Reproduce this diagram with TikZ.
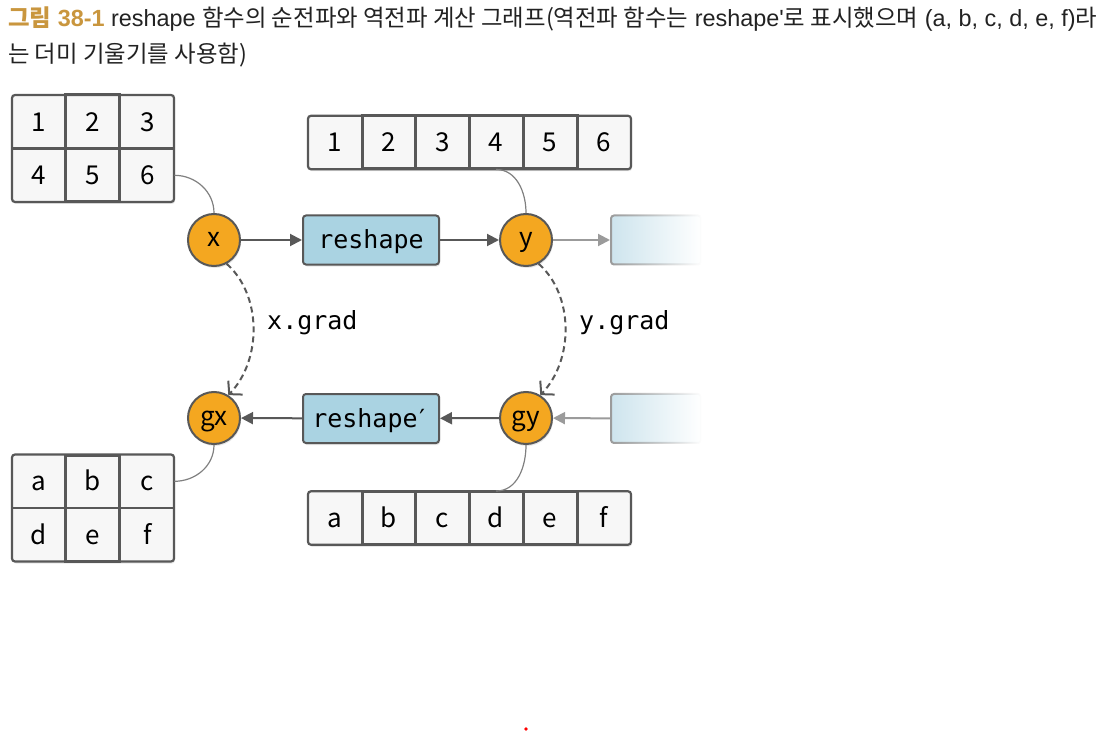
\documentclass[tikz,border=0pt]{standalone}
\usepackage{fontspec}
\setmainfont{Liberation Sans}
\newfontfamily\cjk{Noto Sans CJK KR}
\newfontfamily\monofont{DejaVu Sans Mono}
\usetikzlibrary{arrows.meta,shadows,fadings}
\definecolor{titlegold}{RGB}{201,150,62}
\definecolor{txt}{RGB}{34,34,34}
\definecolor{edge}{RGB}{88,88,88}
\definecolor{cellfill}{RGB}{247,247,247}
\definecolor{varorange}{RGB}{244,167,32}
\definecolor{fnblue}{RGB}{170,211,226}
\definecolor{fadeblue}{RGB}{205,228,237}
\definecolor{lightarr}{RGB}{155,155,155}
\newcommand\K[1]{{\cjk #1}}
\tikzfading[name=fadeR, left color=transparent!0, right color=transparent!100]
\tikzset{
  gridbox/.style={draw=edge, line width=2.2pt, fill=cellfill, rounded corners=3pt,
    inner sep=0pt, drop shadow={opacity=0.18, shadow xshift=1pt, shadow yshift=-2pt}},
  thickcell/.style={draw=edge, line width=3pt},
  cell/.style={inner sep=0pt, minimum width=53.8pt, minimum height=53.5pt,
    text height=19pt, text depth=0pt,
    font=\cjk\fontsize{26}{26}\selectfont, text=black},
  var/.style={circle, draw=edge, line width=2pt, fill=varorange, minimum size=52pt, inner sep=0pt,
    text height=14pt, text depth=0pt,
    font=\cjk\fontsize{26}{26}\selectfont, text=black,
    drop shadow={opacity=0.18, shadow xshift=1pt, shadow yshift=-2pt}},
  fn/.style={draw=edge, line width=2pt, fill=fnblue, rounded corners=3pt, minimum width=136pt,
    minimum height=49pt, inner sep=0pt, text height=17pt, text depth=0pt,
    font=\monofont\fontsize{25}{25}\selectfont, text=black,
    drop shadow={opacity=0.18, shadow xshift=1pt, shadow yshift=-2pt}},
  fadebox/.style={draw=lightarr, line width=2pt, fill=fadeblue, rounded corners=3pt, minimum width=90pt,
    minimum height=49pt, inner sep=0pt, path fading=fadeR},
  arr/.style={draw=edge, line width=2pt, -{Triangle[length=12pt,width=12pt]}},
  lightarrow/.style={draw=lightarr, line width=2pt, -{Triangle[length=12pt,width=12pt]}},
  gradarrow/.style={draw=edge, line width=2pt, dash pattern=on 6pt off 4pt,
    -{Straight Barb[length=9pt,width=20pt]}},
  link/.style={draw=gray, line width=1.2pt},
  lbl/.style={font=\monofont\fontsize{25}{25}\selectfont, text=black, inner sep=0pt}
}
\begin{document}
\begin{tikzpicture}[x=1pt,y=-1pt]
\useasboundingbox (0,0) rectangle (1112,733);
% title
\node[anchor=base west, inner sep=0pt, text=txt, font=\fontsize{23.4}{27}\selectfont] (t1) at (8,27)
 {{\color{titlegold}\K{\bfseries 그림} \textbf{38-1}} reshape \K{함수의 순전파와 역전파 계산 그래프(역전파 함수는} reshape\textquotesingle\K{로 표시했으며} (a, b, c, d, e, f)\K{라}};
\node[anchor=base west, inner sep=0pt, text=txt, font=\fontsize{23.4}{27}\selectfont] (t2) at (8,63)
 {\K{는 더미 기울기를 사용함)}};

% top-left grid 1..6
\node[gridbox, minimum width=162pt, minimum height=107pt] (gA) at (93,148.5) {};
\draw[thickcell] (65.5,95) rectangle (119.5,202);
\draw[edge, line width=2.2pt] (12,148.5) -- (174,148.5);
\node[cell] (a1) at (38.7,121.7) {1};
\node[cell] (a2) at (92.5,121.7) {2};
\node[cell] (a3) at (147.3,121.7) {3};
\node[cell] (a4) at (38.7,175.3) {4};
\node[cell] (a5) at (92.5,175.3) {5};
\node[cell] (a6) at (147.3,175.3) {6};

% top row 1..6
\node[gridbox, minimum width=323pt, minimum height=53.5pt] (gB) at (469.5,142.5) {};
\draw[thickcell] (362,116) rectangle (577,169);
\draw[thickcell] (415.5,116) -- (415.5,169);
\draw[thickcell] (469.5,116) -- (469.5,169);
\draw[thickcell] (523,116) -- (523,169);
\node[cell] (b1) at (335,142.5) {1};
\node[cell] (b2) at (389,142.5) {2};
\node[cell] (b3) at (442.5,142.5) {3};
\node[cell] (b4) at (496,142.5) {4};
\node[cell] (b5) at (550,142.5) {5};
\node[cell] (b6) at (604,142.5) {6};

% bottom-left grid a..f
\node[gridbox, minimum width=162pt, minimum height=107pt] (gC) at (93,508) {};
\draw[thickcell] (65.5,455) rectangle (119.5,561);
\draw[edge, line width=2.2pt] (12,508) -- (174,508);
\node[cell] (c1) at (38.7,481.3) {a};
\node[cell] (c2) at (92.5,481.3) {b};
\node[cell] (c3) at (147.3,481.3) {c};
\node[cell] (c4) at (38.7,534.7) {d};
\node[cell] (c5) at (92.5,534.7) {e};
\node[cell] (c6) at (147.3,534.7) {f};

% bottom row a..f
\node[gridbox, minimum width=323pt, minimum height=53.5pt] (gD) at (469.5,518) {};
\draw[thickcell] (362,491.5) rectangle (577,544.5);
\draw[thickcell] (415.5,491.5) -- (415.5,544.5);
\draw[thickcell] (469.5,491.5) -- (469.5,544.5);
\draw[thickcell] (523,491.5) -- (523,544.5);
\node[cell] (d1) at (335,518) {a};
\node[cell] (d2) at (389,518) {b};
\node[cell] (d3) at (442.5,518) {c};
\node[cell] (d4) at (496,518) {d};
\node[cell] (d5) at (550,518) {e};
\node[cell] (d6) at (604,518) {f};

% variables and functions
\node[var] (x) at (214,240) {x};
\node[var] (y) at (526,240) {y};
\node[var] (gx) at (214,418) {gx};
\node[var] (gy) at (526,418) {gy};
\node[fn] (f) at (371,240) {reshape};
\node[fn] (fb) at (371,418.5) {reshape\kern-3pt′};
\node[fadebox] (nf) at (656,240) {};
\node[fadebox] (nb) at (656,418.5) {};

% arrows
\draw[arr] (x) -- (f);
\draw[arr] (f) -- (y);
\draw[lightarrow] (y) -- (nf);
\draw[lightarrow] (nb) -- (gy);
\draw[arr] (gy) -- (fb);
\draw[arr] (fb) -- (gx);

% grad arrows
\draw[gradarrow] (x.-62) .. controls (262,295) and (262,360) .. (gx.58);
\draw[gradarrow] (y.-62) .. controls (574,295) and (574,360) .. (gy.58);
\node[lbl, anchor=west] (lx) at (267,323) {x.grad};
\node[lbl, anchor=west] (ly) at (579,323) {y.grad};

% links to data
\draw[link] (a6.east) to[out=0,in=90] (x.north);
\draw[link] (b4.south) to[out=0,in=90] (y.north);
\draw[link] (gx.south) to[out=-90,in=0] (c3.east);
\draw[link] (gy.south) to[out=-90,in=0] (d4.north);

% stray mark
\fill[red] (526,729) circle (1.8pt);
\end{tikzpicture}
\end{document}
